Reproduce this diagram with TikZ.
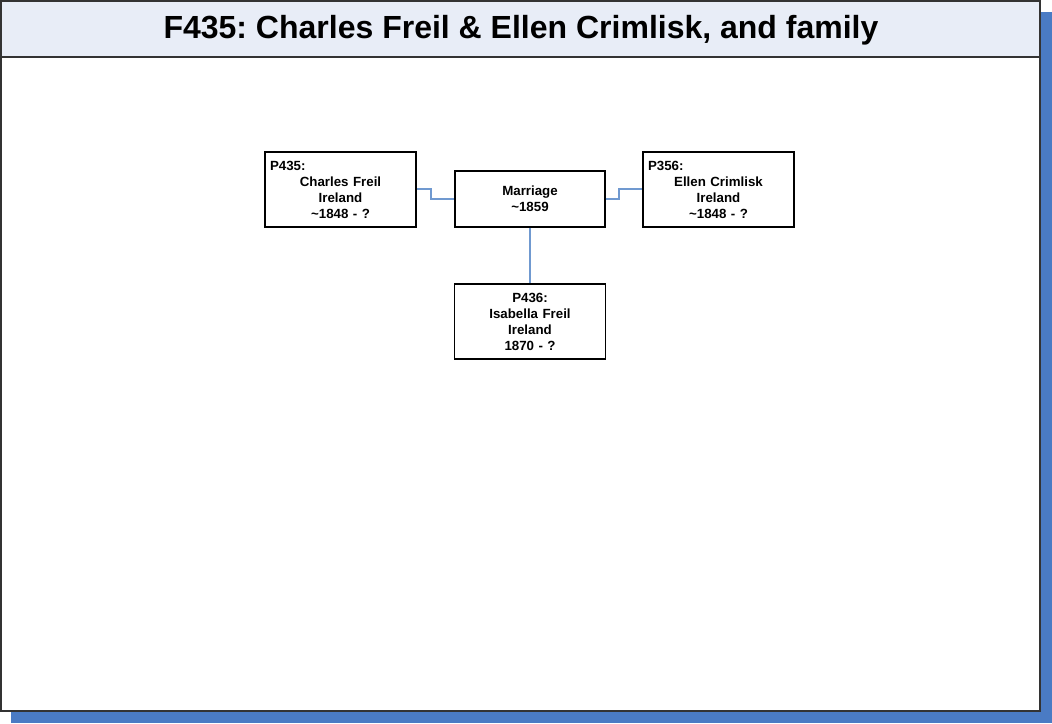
\documentclass[tikz,border=0pt]{standalone}
\usepackage{fontspec}
\setmainfont{Liberation Sans}
\frenchspacing
\definecolor{shadowblue}{RGB}{74,123,196}
\definecolor{headfill}{RGB}{232,237,247}
\definecolor{linkblue}{RGB}{112,153,208}
\tikzset{
  px/.style={x=1pt,y=-1pt},
  person/.style={draw=black, line width=1.6pt, fill=white, rectangle, minimum width=151pt, minimum height=75pt, inner sep=5pt, text width=141pt, align=center, font=\fontsize{13.3}{16}\selectfont\bfseries},
  union/.style={draw=black, line width=1.3pt, fill=white, rectangle, minimum width=150pt, minimum height=56pt, inner sep=5pt, text width=140pt, align=center, font=\fontsize{13.3}{16}\selectfont\bfseries},
  link/.style={draw=linkblue, line width=1.1pt},
}
\begin{document}
\begin{tikzpicture}[px]
\useasboundingbox (0,0) rectangle (1052,723);
\fill[shadowblue] (11,12) rectangle (1052,723);
\draw[fill=white, draw=black!80, line width=1.2pt] (1,1) rectangle (1040,711);
\draw[fill=headfill, draw=black!80, line width=1.2pt] (1,1) rectangle (1040,57);
\node[font=\fontsize{32}{36}\selectfont\bfseries, anchor=base, inner sep=0pt] (title) at (521,38.3) {F435: Charles Freil \& Ellen Crimlisk, and family};

\node[person] (p435) at (340.5,189.5) {\makebox[\linewidth][l]{P435:}\\Charles Freil\\Ireland\\\textasciitilde1848 - ?};
\node[union] (marr) at (530,199) {Marriage\\\textasciitilde1859};
\node[person] (p356) at (718.5,189.5) {\makebox[\linewidth][l]{P356:}\\Ellen Crimlisk\\Ireland\\\textasciitilde1848 - ?};
\node[person] (p436) at (530,321.5) {P436:\\Isabella Freil\\Ireland\\1870 - ?};

\draw[link] (p435.east |- 0,189) -- (431,189) |- (marr.west);
\draw[link] (marr.east) -- (619,199) |- (p356.west |- 0,189);
\draw[link] (marr.south) -- (p436.north);
\end{tikzpicture}
\end{document}
